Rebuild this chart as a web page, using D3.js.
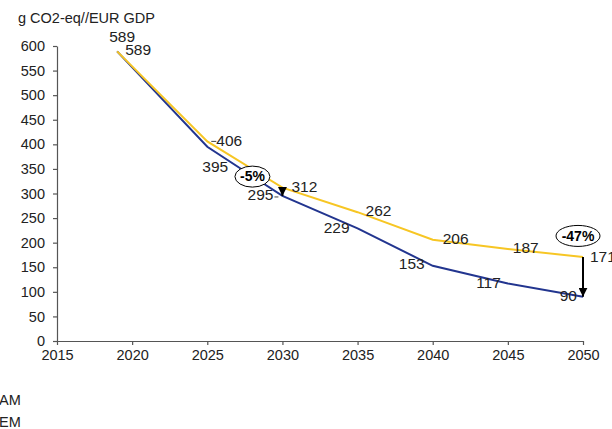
<!DOCTYPE html>
<html><head><meta charset="utf-8">
<script src="https://cdn.jsdelivr.net/npm/d3@7"></script>
<style>body{margin:0;background:#fff}svg{display:block;font-family:"Liberation Sans",Arial,sans-serif}</style>
</head><body>
<svg id="c" width="612" height="429"></svg>
<script>
const years = [2019, 2025, 2030, 2035, 2040, 2045, 2050];
const wemValues = [589, 406, 312, 262, 206, 187, 171];
const wamValues = [589, 395, 295, 229, 153, 117, 90];
const yTicks = [0, 50, 100, 150, 200, 250, 300, 350, 400, 450, 500, 550, 600];
const xTicks = [2015, 2020, 2025, 2030, 2035, 2040, 2045, 2050];
const legendLabels = ["AM", "EM"];
const annotations = [{year: 2030, text: "-5%"}, {year: 2050, text: "-47%"}];

const svg = d3.select("#c");
const x = d3.scaleLinear().domain([2015, 2050]).range([57, 583]);
const y = d3.scaleLinear().domain([0, 600]).range([341, 46]);
const BLUE = "#22358f", YELLOW = "#f7c624", AX = "#555";
const FS = 14.5, LFS = 15.5;

svg.append("text").attr("x", 18).attr("y", 23).attr("font-size", FS).attr("fill", "#222").text("g CO2-eq//EUR GDP");

const gy = svg.append("g").attr("transform", "translate(57,0)")
  .call(d3.axisLeft(y).tickValues(yTicks).tickSize(4).tickSizeOuter(0).tickPadding(8));
const gx = svg.append("g").attr("transform", "translate(0,341)")
  .call(d3.axisBottom(x).tickValues(xTicks).tickFormat(d3.format("d")).tickSize(4).tickSizeOuter(0).tickPadding(5));
[gx, gy].forEach(g => {
  g.selectAll("path,line").attr("stroke", AX).attr("stroke-width", 1.2);
  g.selectAll("text").attr("font-size", FS).attr("fill", "#222").attr("font-family", '"Liberation Sans",Arial,sans-serif');
});

const line = d3.line().x((d, i) => x(years[i])).y(d => y(d));
svg.append("path").datum(wamValues).attr("d", line).attr("fill", "none").attr("stroke", BLUE).attr("stroke-width", 2);
svg.append("path").datum(wemValues).attr("d", line).attr("fill", "none").attr("stroke", YELLOW).attr("stroke-width", 2);

const lab = (xx, yy, t, anchor) => svg.append("text").attr("x", xx).attr("y", yy).attr("text-anchor", anchor)
  .attr("dominant-baseline", "middle").attr("font-size", LFS).attr("fill", "#222").text(t);
const wemOff = [[5, -14, "middle"], [9, 1, "start"], [9, 0, "start"], [8, 0, "start"], [10, 0, "start"], [5, 0, "start"], [7, 1, "start"]];
const wamOff = [[21, -1, "middle"], [8, 21, "middle"], [-9, 0, "end"], [-8, 0, "end"], [-8, -1, "end"], [-7, 0, "end"], [-6, 0, "end"]];
wemValues.forEach((v, i) => { const o = wemOff[i]; lab(x(years[i]) + o[0], y(v) + o[1], v, o[2]); });
wamValues.forEach((v, i) => { const o = wamOff[i]; lab(x(years[i]) + o[0], y(v) + o[1], v, o[2]); });
svg.append("line").attr("x1", x(2025) + 4).attr("x2", x(2025) + 9).attr("y1", y(406)).attr("y2", y(406)).attr("stroke", "#444");
svg.append("line").attr("x1", x(2030) - 8).attr("x2", x(2030) - 4).attr("y1", y(295)+1).attr("y2", y(295)+1).attr("stroke", "#444");

const defs = svg.append("defs");
defs.append("marker").attr("id", "ah").attr("viewBox", "0 0 10 10").attr("refX", 10).attr("refY", 5)
  .attr("markerWidth", 4.5).attr("markerHeight", 4.5).attr("orient", "auto")
  .append("path").attr("d", "M0,0L10,5L0,10Z").attr("fill", "#000");
annotations.forEach((a, i) => {
  const j = years.indexOf(a.year);
  const xx = x(a.year);
  svg.append("line").attr("x1", xx).attr("x2", xx).attr("y1", y(wemValues[j])).attr("y2", y(wamValues[j]))
    .attr("stroke", "#000").attr("stroke-width", 2).attr("marker-end", "url(#ah)");
  const cx = i === 0 ? xx - 30 : xx - 5;
  const cy = i === 0 ? y(wemValues[j]) - 11 : y(wemValues[j]) - 21;
  const rx = i === 0 ? 17.5 : 22;
  svg.append("ellipse").attr("cx", cx).attr("cy", cy).attr("rx", rx).attr("ry", 10.5)
    .attr("fill", "#fff").attr("stroke", "#000").attr("stroke-width", 1);
  svg.append("text").attr("x", cx).attr("y", cy + 1).attr("text-anchor", "middle").attr("dominant-baseline", "middle")
    .attr("font-size", 14).attr("font-weight", "bold").attr("fill", "#000").text(a.text);
});

legendLabels.forEach((t, i) => {
  svg.append("text").attr("x", -1).attr("y", 401 + i * 22).attr("dominant-baseline", "middle")
    .attr("font-size", FS).attr("fill", "#222").text(t);
});
</script>
</body></html>
